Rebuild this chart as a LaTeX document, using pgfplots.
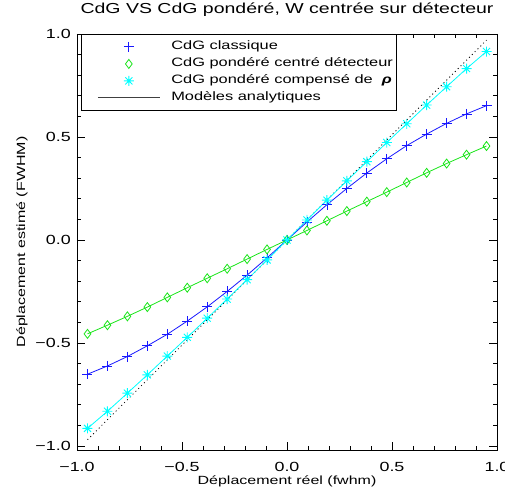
\documentclass[border=0pt]{standalone}
\usepackage{pgfplots}
\pgfplotsset{compat=1.18}
\usepackage{pgfplotstable}
\usepackage{fontspec}
\setmainfont{Liberation Sans}[FakeStretch=1.35]

\pgfdeclareplotmark{ast8}{%
 \pgfpathmoveto{\pgfqpoint{-\pgfplotmarksize}{0pt}}\pgfpathlineto{\pgfqpoint{\pgfplotmarksize}{0pt}}%
 \pgfpathmoveto{\pgfqpoint{0pt}{-\pgfplotmarksize}}\pgfpathlineto{\pgfqpoint{0pt}{\pgfplotmarksize}}%
 \pgfpathmoveto{\pgfqpoint{-0.707\pgfplotmarksize}{-0.707\pgfplotmarksize}}\pgfpathlineto{\pgfqpoint{0.707\pgfplotmarksize}{0.707\pgfplotmarksize}}%
 \pgfpathmoveto{\pgfqpoint{-0.707\pgfplotmarksize}{0.707\pgfplotmarksize}}\pgfpathlineto{\pgfqpoint{0.707\pgfplotmarksize}{-0.707\pgfplotmarksize}}%
 \pgfusepathqstroke}

\definecolor{idlblue}{rgb}{0.1,0.1,1}
\definecolor{idlgreen}{rgb}{0.1,0.9,0.1}
\definecolor{idlcyan}{rgb}{0,1,1}

\pgfplotsset{
  mleg/.style={legend image code/.code={\path (-13bp,0bp) (73bp,0bp); \draw[##1] plot[only marks] coordinates {(31bp,0bp)};}},
  lleg/.style={legend image code/.code={\path (-13bp,0bp) (73bp,0bp); \draw[##1] (0bp,0bp) -- (62bp,0bp);}},
}

\pgfplotstableread{
x blue green cyan
-0.950 -0.652 -0.456 -0.915
-0.855 -0.612 -0.414 -0.832
-0.760 -0.566 -0.371 -0.744
-0.665 -0.514 -0.326 -0.655
-0.570 -0.458 -0.279 -0.564
-0.475 -0.394 -0.232 -0.473
-0.380 -0.325 -0.186 -0.380
-0.285 -0.250 -0.140 -0.287
-0.190 -0.171 -0.093 -0.193
-0.095 -0.087 -0.046 -0.097
0.000 0.000 0.000 0.000
0.095 0.087 0.046 0.097
0.190 0.171 0.093 0.193
0.285 0.250 0.140 0.287
0.380 0.325 0.186 0.380
0.475 0.394 0.232 0.473
0.570 0.458 0.279 0.564
0.665 0.514 0.326 0.655
0.760 0.566 0.371 0.744
0.855 0.612 0.414 0.832
0.950 0.652 0.456 0.915
}\data

\begin{document}
\begin{tikzpicture}
\begin{axis}[
  name=ax,
  scale only axis, width=420bp, height=416bp,
  xmin=-1, xmax=1, ymin=-1.02, ymax=1.0,
  xtick={-1,-0.5,0,0.5,1}, xticklabels={−1.0,−0.5,0.0,0.5,1.0},
  ytick={-1,-0.5,0,0.5,1}, yticklabels={−1.0,−0.5,0.0,0.5,1.0},
  minor tick num=4,
  tick align=inside, xtick pos=both, ytick pos=both,
  xticklabel pos=lower, yticklabel pos=left,
  major tick length=8bp, minor tick length=4bp,
  every tick/.style={black, line width=0.7bp},
  axis line style={line width=0.9bp},
  every tick label/.append style={inner sep=0pt, font=\fontsize{13.3}{15}\selectfont},
  xticklabel style={anchor=base, yshift=-21.7bp},
  yticklabel style={anchor=east, xshift=-6bp},
  title={CdG VS CdG pondéré, W centrée sur détecteur},
  title style={at={(axis description cs:0.5,1.0360)}, anchor=base, inner sep=0pt, font=\fontsize{14.5}{17}\selectfont},
  xlabel={Déplacement réel (fwhm)},
  xlabel style={at={(axis description cs:0.5,-0.0841)}, anchor=base, inner sep=0pt, font=\fontsize{11.9}{14}\selectfont},
  ylabel={Déplacement estimé (FWHM)},
  ylabel style={at={(axis description cs:-0.1238,0.5)}, anchor=base, inner sep=0pt, font=\fontsize{11.9}{14}\selectfont},
  legend cell align=left,
  legend style={at={(axis description cs:0.0095,1)}, anchor=north west, draw=black, line width=0.8bp,
     inner xsep=3bp, inner ysep=4bp, row sep=0pt, font=\fontsize{12.2}{14}\selectfont,
     nodes={inner xsep=0pt, inner ysep=2.5bp, text height=9bp, text depth=3bp}},
]
\addplot[black, dash pattern=on 1bp off 3bp, line width=0.8bp, forget plot] coordinates {(-0.95,-0.97) (0.95,0.97)};
\addplot[idlblue, line width=0.8bp, mark=+, mark size=5bp, mark options={solid, line width=0.8bp}, mleg] table[x=x,y=blue] {\data};
\addlegendentry{CdG classique}
\addplot[idlgreen, line width=0.8bp, mark=diamond, mark size=4.5bp, mark options={solid, line width=0.8bp}, mleg] table[x=x,y=green] {\data};
\addlegendentry{CdG pondéré centré détecteur}
\addplot[idlcyan, line width=0.8bp, mark=ast8, mark size=5bp, mark options={solid, line width=0.9bp}, mleg] table[x=x,y=cyan] {\data};
\addlegendentry{CdG pondéré compensé de \ \textbf{\textit{ρ}}}
\addlegendimage{black!75, line width=0.9bp, lleg}
\addlegendentry{Modèles analytiques}
\end{axis}
\pgfresetboundingbox
\path[use as bounding box] ([xshift=-77bp,yshift=-44bp]ax.south west) rectangle ([xshift=8bp,yshift=34bp]ax.north east);
\end{tikzpicture}
\end{document}
